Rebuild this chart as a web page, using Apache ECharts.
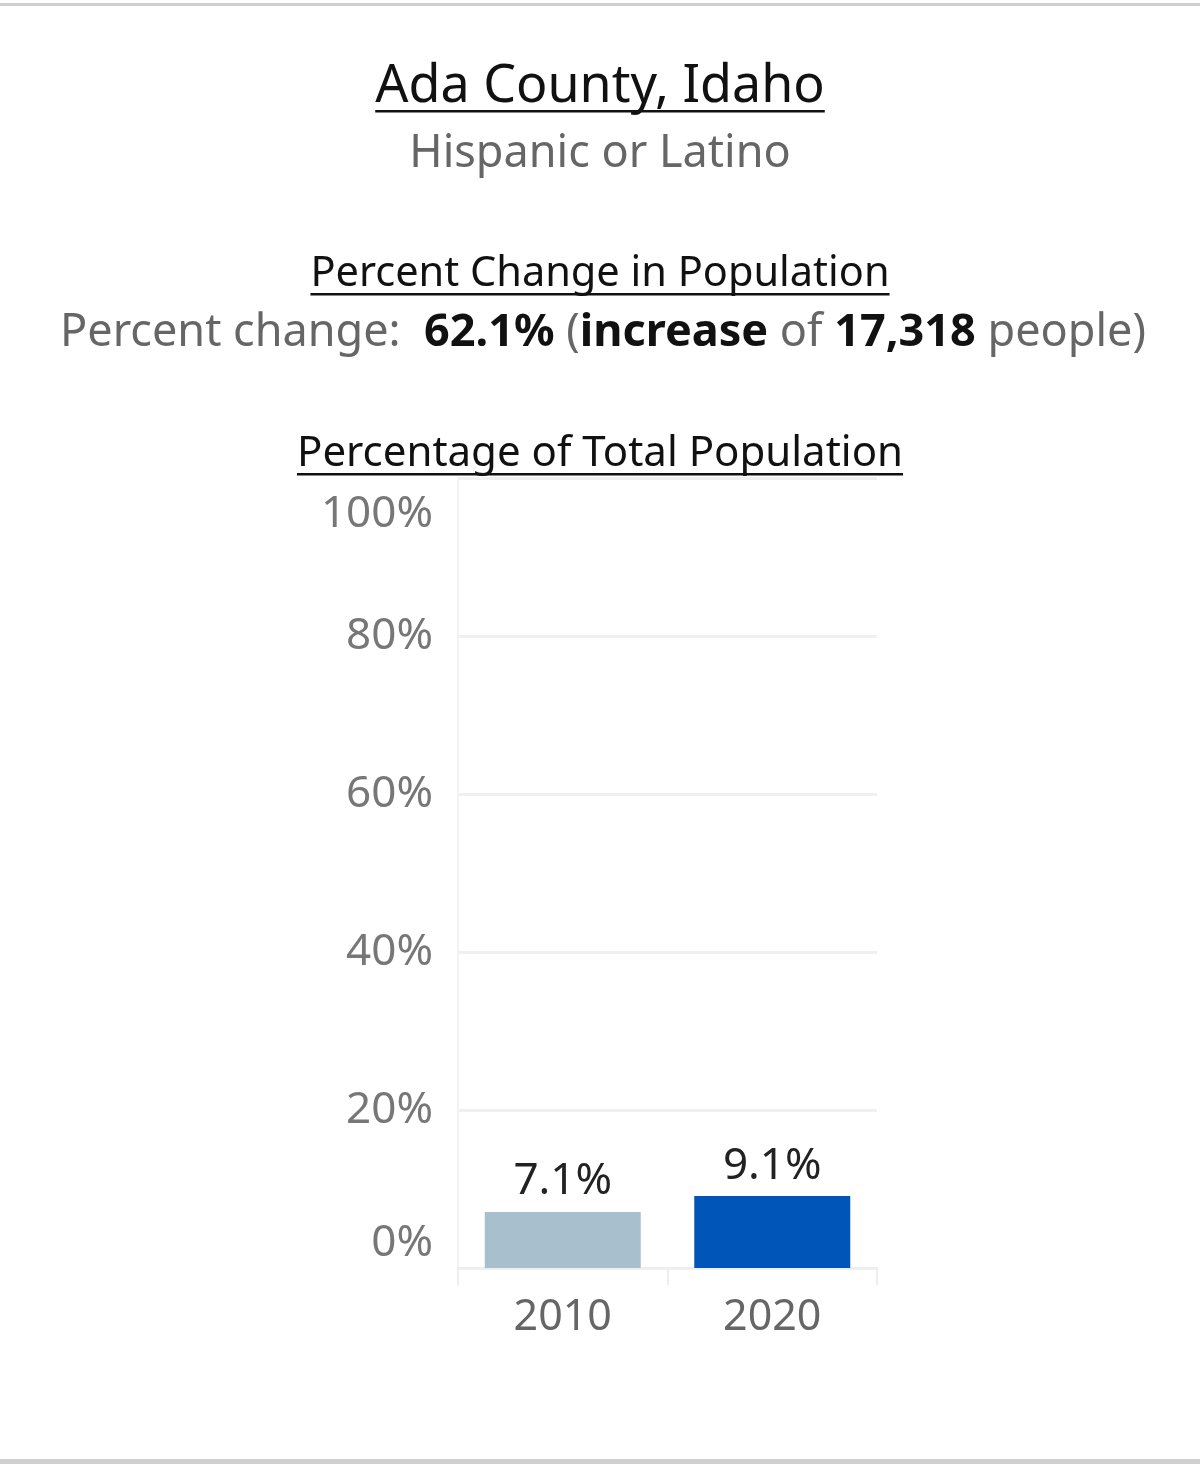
<!DOCTYPE html>
<html>
<head>
<meta charset="utf-8">
<script src="https://cdn.jsdelivr.net/npm/echarts@6/dist/echarts.min.js"></script>
<style>
  html, body { margin: 0; padding: 0; background: #fff; }
  #chart { width: 1200px; height: 1464px; }
</style>
</head>
<body>
<div id="chart"></div>
<script>
const years = ['2010', '2020']
const shares = [7.1, 9.1]
const barColors = ['#a8bfcd', '#0055b8']

const FONT = '"Noto Sans", sans-serif'

// measure text so underlines fit the words
const ctx = document.createElement('canvas').getContext('2d')
function textWidth(str, size, weight) {
  ctx.font = (weight || 'normal') + ' ' + size + 'px "Noto Sans"'
  return ctx.measureText(str).width
}

function underlinedTitle(str, y, size, lineY) {
  const w = textWidth(str, size)
  return [
    {
      type: 'text',
      x: 600, y: y,
      style: {
        text: str, font: size + 'px ' + FONT, fill: '#111',
        textAlign: 'center', textVerticalAlign: 'middle'
      }
    },
    {
      type: 'rect',
      shape: { x: 600 - w / 2, y: lineY, width: w, height: 2.5 },
      style: { fill: '#111' }
    }
  ]
}

const chart = echarts.init(document.getElementById('chart'))

const option = {
  animation: false,
  backgroundColor: '#fff',
  grid: { left: 458, right: 323, top: 478, bottom: 196 },
  xAxis: {
    type: 'category',
    data: years,
    axisLine: { lineStyle: { color: '#eeeeee', width: 2 } },
    axisTick: { show: true, length: 17, lineStyle: { color: '#eeeeee', width: 2 } },
    axisLabel: { color: '#666', fontSize: 43, fontFamily: FONT, margin: 28 }
  },
  yAxis: {
    type: 'value',
    min: 0, max: 100, interval: 20,
    axisLine: { show: true, lineStyle: { color: '#f3f3f3', width: 2 } },
    axisTick: { show: false },
    splitLine: { lineStyle: { color: '#f0f0f0', width: 3 } },
    axisLabel: {
      margin: 25,
      formatter: function (v) {
        if (v === 100) return '{top|' + v + '%}'
        if (v === 0) return '{bot|' + v + '%}'
        return '{n|' + v + '%}'
      },
      rich: {
        n: { color: '#777', fontSize: 44, fontFamily: FONT },
        top: { color: '#777', fontSize: 44, fontFamily: FONT, padding: [72, 0, 0, 0] },
        bot: { color: '#777', fontSize: 44, fontFamily: FONT, padding: [0, 0, 50, 0] }
      }
    }
  },
  series: [
    {
      type: 'bar',
      barWidth: 156,
      data: shares.map((v, i) => ({ value: v, itemStyle: { color: barColors[i] } })),
      label: {
        show: true,
        position: 'top',
        distance: 8,
        color: '#222',
        fontSize: 44,
        fontFamily: FONT,
        formatter: p => p.value.toFixed(1) + '%'
      }
    }
  ],
  graphic: [
    // cut-off panel edges top and bottom
    { type: 'rect', shape: { x: 0, y: 3, width: 1200, height: 3 }, style: { fill: '#cfcfcf' } },
    { type: 'rect', shape: { x: 0, y: 1459, width: 1200, height: 5 }, style: { fill: '#d0d0d0' } },
    ...underlinedTitle('Ada County, Idaho', 87, 52, 110),
    {
      type: 'text',
      x: 600, y: 154,
      style: {
        text: 'Hispanic or Latino', font: '45px ' + FONT, fill: '#666',
        textAlign: 'center', textVerticalAlign: 'middle'
      }
    },
    ...underlinedTitle('Percent Change in Population', 274, 41.5, 293),
    {
      type: 'text',
      x: 603, y: 333,
      style: {
        text: '{g|Percent change:  }{b|62.1%}{g| (}{b|increase}{g| of }{b|17,318}{g| people)}',
        textAlign: 'center', textVerticalAlign: 'middle',
        rich: {
          g: { fontSize: 45, fontFamily: FONT, fill: '#666' },
          b: { fontSize: 45, fontFamily: FONT, fill: '#111', fontWeight: 'bold' }
        }
      }
    },
    ...underlinedTitle('Percentage of Total Population', 454, 42, 473)
  ]
}

chart.setOption(option)
</script>
</body>
</html>
